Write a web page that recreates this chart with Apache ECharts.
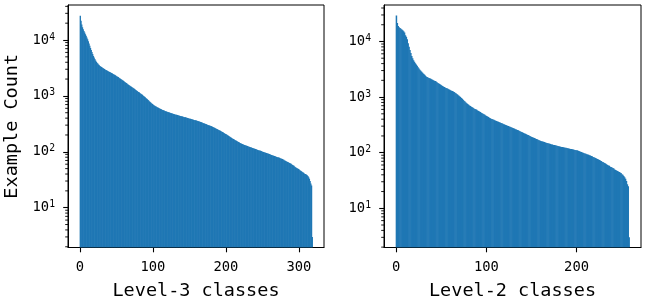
<!DOCTYPE html>
<html><head><meta charset="utf-8">
<script src="https://cdn.jsdelivr.net/npm/echarts@6/dist/echarts.min.js"></script>
<style>html,body{margin:0;padding:0;background:#fff}#c{width:646px;height:303px}</style>
</head><body><div id="c"></div>
<script>
const level3Counts = [
27200,22000,19000,17000,15500,14500,13600,12700,11900,11100,
10300,9500,8700,7900,7200,6600,6100,5600,5200,4850,
4550,4300,4100,3930,3780,3650,3540,3440,3360,3290,
3220,3160,3100,3040,2980,2920,2870,2820,2770,2730,
2690,2650,2600,2560,2510,2470,2420,2380,2330,2290,
2250,2210,2170,2120,2080,2030,1990,1950,1900,1860,
1820,1780,1740,1700,1660,1620,1590,1550,1520,1490,
1460,1430,1400,1370,1340,1310,1280,1250,1220,1190,
1170,1145,1120,1095,1070,1045,1020,995,970,945,
920,893,867,842,818,795,773,752,733,715,
698,683,669,656,644,633,622,612,602,593,
584,576,568,560,553,546,539,532,526,520,
514,508,503,498,493,488,483,478,474,470,
466,462,458,454,450,446,442,438,434,431,
428,425,421,417,414,410,406,403,399,396,
392,389,385,382,378,375,372,368,365,362,
358,355,352,348,345,341,337,333,329,325,
321,317,314,310,306,303,299,296,292,289,
285,281,277,273,269,265,261,257,253,249,
245,241,237,233,229,225,221,217,213,209,
205,201,197,193,189,185,182,178,175,172,
169,166,163,160,157,154,151,149,146,144,
142,140,138,136,134,133,131,130,128,127,
125,124,122,121,120,118,117,116,115,113,
112,111,110,108,107,106,105,104,103,101,
100,99,98,97,96,95,94,93,92,91,
90,89,88,87,86,85,84,83,82,81,
80,80,79,78,77,76,75,74,73,72,
70,69,68,67,66,65,64,63,62,61,
59,58,57,56,54,53,52,51,50,49,
48,47,46,45,44,43,42,41,40,40,
39,38,37,35,33,30,27,25,3
];
const level2Counts = [
29400,21500,19000,18000,17500,17000,16500,16000,15200,14500,
13000,12200,11000,9300,8000,7000,6200,5500,5000,4600,
4300,4050,3850,3650,3450,3270,3100,2980,2860,2750,
2640,2540,2440,2350,2300,2260,2210,2170,2130,2090,
2050,2010,1970,1940,1900,1850,1800,1760,1720,1670,
1630,1590,1550,1520,1490,1460,1440,1410,1380,1360,
1330,1305,1280,1255,1230,1200,1170,1140,1105,1070,
1035,1000,965,930,895,862,830,800,772,748,
726,706,688,671,655,640,626,613,601,590,
576,563,550,538,525,513,502,490,479,468,
457,447,436,426,416,409,403,396,390,383,
377,371,365,359,354,348,343,337,332,326,
321,316,311,306,301,297,292,287,283,278,
274,270,265,261,257,252,248,243,239,235,
231,226,222,218,215,211,207,203,200,196,
192,189,186,183,180,177,174,171,168,165,
163,161,159,157,155,153,151,149,147,146,
144,143,141,140,138,137,136,134,133,132,
131,129,128,127,126,125,124,123,122,121,
120,119,118,117,116,115,114,113,112,111,
110,109,107,106,104,103,101,100,98,97,
96,94,93,92,90,89,87,86,84,83,
81,80,78,77,75,74,72,71,69,68,
66,65,63,62,60,59,58,56,55,54,
53,52,50,49,48,47,46,45,44,43,
41,40,38,36,34,31,27,25,3
];
const xTicksLevel3 = [0, 100, 200, 300];
const xTicksLevel2 = [0, 100, 200];
const yMajorTicks = [10, 100, 1000, 10000];
const yMinorTicks = [2,3,4,5,6,7,8,9,20,30,40,50,60,70,80,90,200,300,400,500,600,700,800,900,
  2000,3000,4000,5000,6000,7000,8000,9000,20000,30000,40000];
const xNames = ['Level-3 classes', 'Level-2 classes'];
const yName = 'Example Count';

const FONT = 'DejaVu Sans Mono';
const BLUE = '#1f77b4';
const panels = [
  {counts: level3Counts, ticks: xTicksLevel3, xmin: -16.45, xmax: 334.45, ymin: 1.94, ymax: 42300, left: 68, width: 256},
  {counts: level2Counts, ticks: xTicksLevel2, xmin: -13.45, xmax: 271.45, ymin: 1.97, ymax: 45300, left: 384, width: 257}
];

function yFmt(v) {
  const e = Math.round(Math.log10(v));
  if (Math.abs(Math.log10(v) - e) > 1e-6) return '';
  return '{b|10}{s|' + e + '}';
}

function tickSeries(k, data, dx, dy, width) {
  return {type: 'custom', xAxisIndex: k, yAxisIndex: k, clip: false, silent: true, animation: false, z: 5,
    data: data,
    renderItem: function (params, api) {
      const c = api.coord([api.value(0), api.value(1)]);
      return {type: 'line', shape: {x1: c[0], y1: c[1], x2: c[0] + dx, y2: c[1] + dy},
        style: {stroke: '#000', lineWidth: width}};
    }};
}

const grid = [], xAxis = [], yAxis = [], series = [];
panels.forEach((p, k) => {
  grid.push({left: p.left, top: 5, width: p.width, height: 242.5, show: true,
    borderColor: '#000', borderWidth: 1, backgroundColor: 'transparent', outerBoundsMode: 'none'});
  xAxis.push({gridIndex: k, type: 'value', min: p.xmin, max: p.xmax, position: 'bottom',
    axisLine: {show: true, onZero: false, lineStyle: {color: '#000', width: 1}},
    axisTick: {show: true, length: 4.8, lineStyle: {color: '#000', width: 1.1}, customValues: p.ticks},
    axisLabel: {customValues: p.ticks, color: '#000', fontFamily: FONT, fontSize: 13.8, margin: 13},
    splitLine: {show: false},
    name: xNames[k], nameLocation: 'middle', nameGap: 34,
    nameTextStyle: {fontFamily: FONT, fontSize: 18.5, color: '#000'}});
  yAxis.push({gridIndex: k, type: 'log', logBase: 10, min: p.ymin, max: p.ymax, position: 'left',
    axisLine: {show: true, onZero: false, lineStyle: {color: '#000', width: 1}},
    axisTick: {show: true, length: 4.8, lineStyle: {color: '#000', width: 1.1}, customValues: yMajorTicks},
    axisLabel: {customValues: yMajorTicks, formatter: yFmt, margin: 13, color: '#000',
      rich: {b: {fontFamily: FONT, fontSize: 13.8, color: '#000'},
             s: {fontFamily: FONT, fontSize: 9.7, color: '#000', padding: [0, 0, 6, 0]}}},
    splitLine: {show: false},
    name: k === 0 ? yName : '', nameLocation: 'middle', nameGap: 46, nameRotate: 90,
    nameTextStyle: {fontFamily: FONT, fontSize: 18.5, color: '#000'}});
  const ymin = p.ymin;
  series.push({type: 'custom', xAxisIndex: k, yAxisIndex: k, clip: true,
    data: p.counts.map((v, i) => [i, v]),
    renderItem: function (params, api) {
      const i = api.value(0), v = api.value(1);
      const a = api.coord([i - 0.5, v]);
      const b = api.coord([i + 0.5, ymin]);
      return {type: 'rect', shape: {x: a[0], y: a[1], width: b[0] - a[0] + 0.6, height: b[1] - a[1]},
        style: {fill: BLUE}};
    }, silent: true, animation: false});
  series.push(tickSeries(k, yMinorTicks.filter(v => v > p.ymin && v < p.ymax).map(v => [p.xmin, v]), -2.8, 0, 0.9));
});

const chart = echarts.init(document.getElementById('c'), null, {renderer: 'canvas'});
chart.setOption({animation: false, backgroundColor: '#fff', grid, xAxis, yAxis, series});
</script></body></html>
